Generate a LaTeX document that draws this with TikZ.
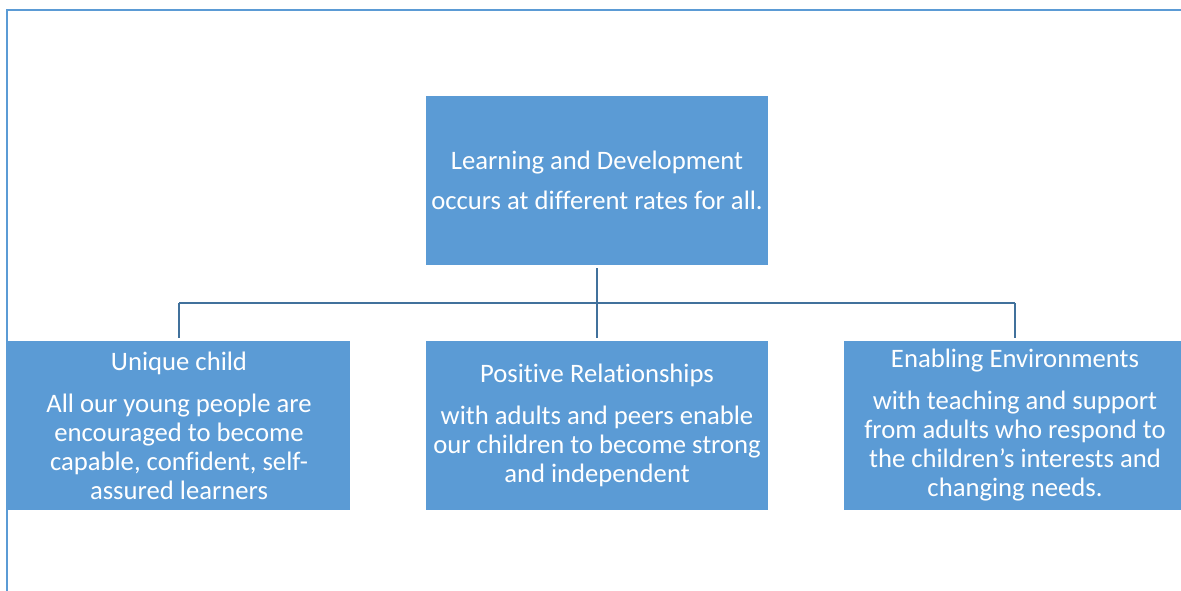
\documentclass[tikz,border=0pt]{standalone}
\usepackage{fontspec}
\setmainfont{Carlito}[Ligatures=NoCommon]
\usepackage{xcolor}
\definecolor{boxblue}{HTML}{5B9BD5}
\definecolor{linkblue}{HTML}{41719C}

\begin{document}
\begin{tikzpicture}[x=0.75pt, y=-0.75pt]
    \tikzstyle{stage} = [rectangle, fill=boxblue, text=white, align=center, inner sep=0pt,
        minimum width=256.5pt, minimum height=126.75pt, font=\fontsize{20}{21.75}\selectfont]
    \tikzstyle{link} = [linkblue, line width=1.6pt]
    \useasboundingbox (0,0) rectangle (1181,591);
    % page frame
    \draw[boxblue, line width=1.5pt] (7,591) -- (7,10) -- (1181,10);

    \node[stage] (rates) at (597,180.5) {Learning and Development\\[8.25pt]occurs at different rates for all.};
    \node[stage] (unique) at (179,425.5) {Unique child\\[9.75pt]All our young people are\\encouraged to become\\capable, confident, self-\\assured learners};
    \node[stage] (relation) at (597,425.5) {Positive Relationships\\[9.75pt]with adults and peers enable\\our children to become strong\\and independent};
    \node[stage] (enable) at (1015,425.5) {Enabling Environments\\[9.75pt]with teaching and support\\from adults who respond to\\the children’s interests and\\changing needs.};

    \coordinate (bus) at (597,303);
    \draw[link, shorten <=2.25pt] (rates.south) -- (rates.south |- bus);
    \draw[link] (unique.north |- bus) -- (enable.north |- bus);
    \foreach \b in {unique,relation,enable} {
        \draw[link, shorten >=2.25pt] (\b.north |- bus) -- (\b.north);
    }
\end{tikzpicture}
\end{document}
